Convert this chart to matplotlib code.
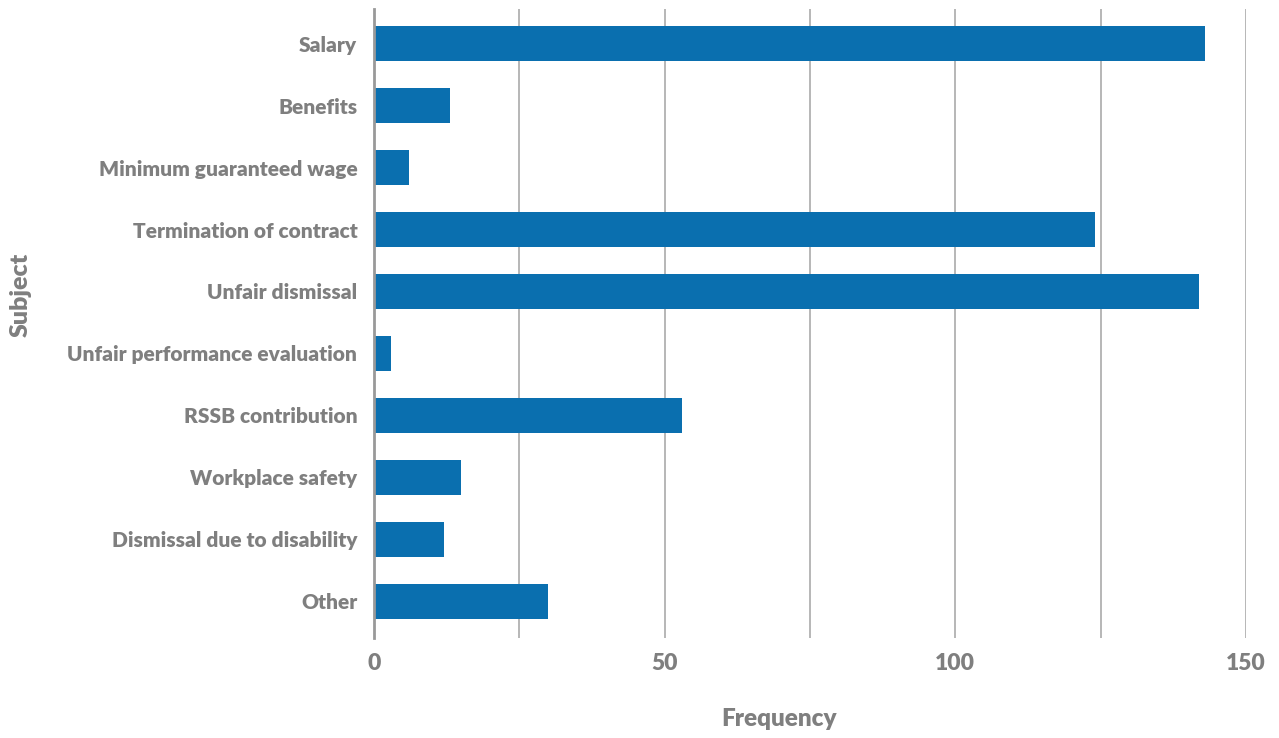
import matplotlib
matplotlib.use("Agg")
import matplotlib.pyplot as plt

categories = ["Salary", "Benefits", "Minimum guaranteed wage", "Termination of contract",
              "Unfair dismissal", "Unfair performance evaluation", "RSSB contribution",
              "Workplace safety", "Dismissal due to disability", "Other"]
values = [143, 13, 6, 124, 142, 3, 53, 15, 12, 30]
xticks = [0, 50, 100, 150]

plt.rcParams['font.family'] = ['Lato', 'DejaVu Sans']
gray = "#7f7f7f"
blue = "#0a6faf"

fig = plt.figure(figsize=(12.79, 7.38), dpi=100)
ax = fig.add_axes([0.2924, 0.1355, 0.6818, 0.8525])
y = list(range(len(categories)))
ax.barh(y, values, height=0.565, color=blue, zorder=3)
ax.set_ylim(len(categories) - 0.5 + 0.097, -0.565)
ax.set_xlim(0, 150)
ax.set_xticks(xticks)
ax.set_xticks([25, 75, 125], minor=True)
ax.set_xticklabels([str(t) for t in xticks], fontsize=16.5, fontweight=800, color=gray)
ax.set_yticks(y)
ax.set_yticklabels(categories, fontsize=15, fontweight=800, color=gray)
ax.tick_params(axis='y', length=0, pad=12)
ax.tick_params(axis='x', which='both', length=0, pad=11)
ax.grid(axis='x', which='both', color='#aaaaaa', linewidth=1.2, zorder=0)
for s in ['top', 'right', 'bottom']:
    ax.spines[s].set_visible(False)
ax.spines['left'].set_color('#999999')
ax.spines['left'].set_linewidth(2)
ax.spines['left'].set_zorder(4)
ax.set_xlabel("Frequency", fontsize=17.5, fontweight=800, color=gray)
ax.set_ylabel("Subject", fontsize=18, fontweight=800, color=gray)
ax.xaxis.set_label_coords(0.464, -0.112)
ax.yaxis.set_label_coords(-0.392, 0.546)
fig.savefig("out.png", dpi=100)
